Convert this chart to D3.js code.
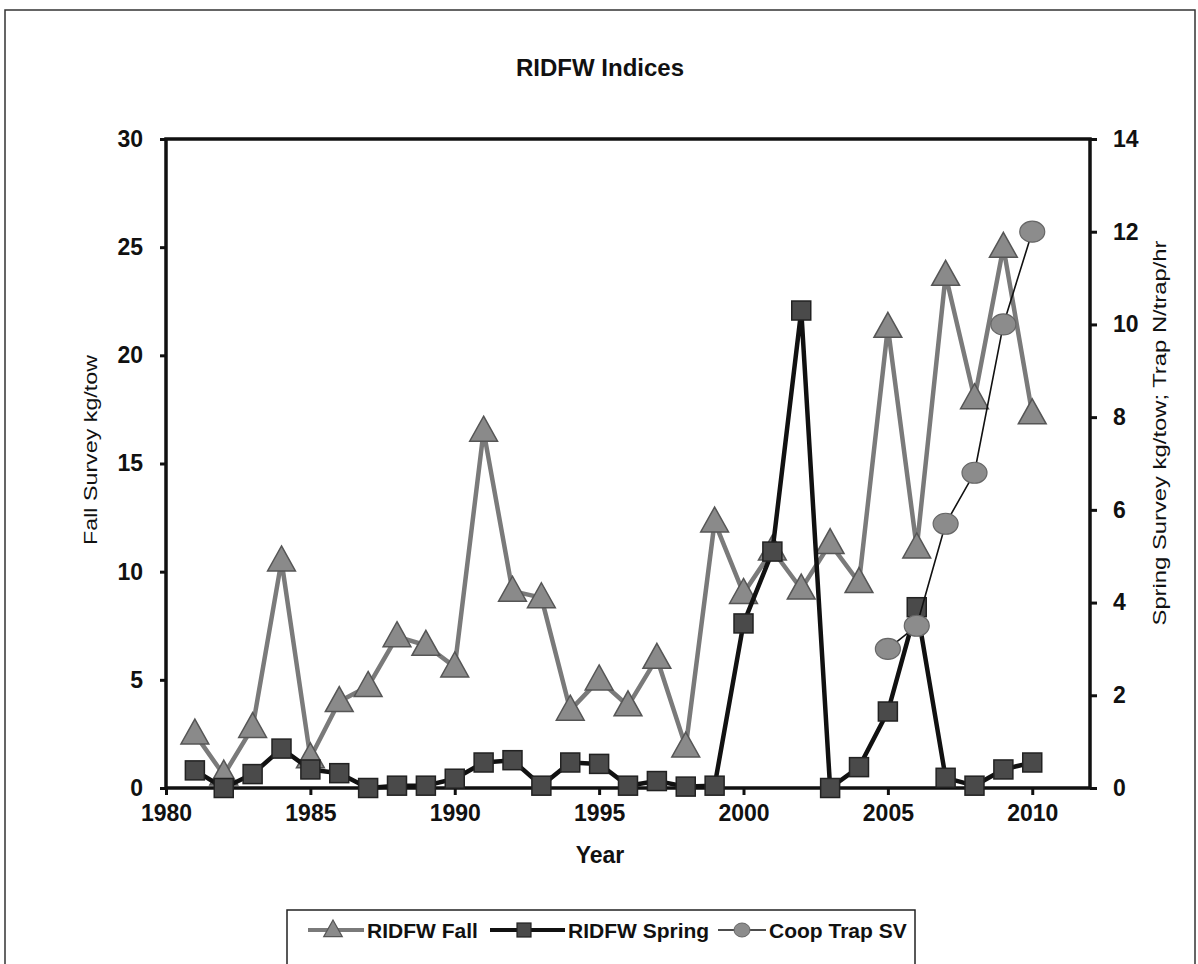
<!DOCTYPE html>
<html>
<head>
<meta charset="utf-8">
<script src="https://cdn.jsdelivr.net/npm/d3@7"></script>
<style>
  html, body { margin: 0; padding: 0; background: #fff; }
  svg { display: block; }
</style>
</head>
<body>
<svg id="chart" width="1198" height="964"></svg>
<script>
// ---- Data ----
const years = [1981,1982,1983,1984,1985,1986,1987,1988,1989,1990,1991,1992,1993,1994,1995,1996,1997,1998,1999,2000,2001,2002,2003,2004,2005,2006,2007,2008,2009,2010];
const fallValues = [2.5,0.6,2.8,10.5,1.4,4.0,4.7,7.0,6.6,5.6,16.5,9.1,8.8,3.6,5.0,3.8,6.0,1.9,12.3,9.0,11.0,9.2,11.3,9.5,21.3,11.1,23.7,18.0,25.0,17.3];
const springValues = [0.38,0.0,0.3,0.85,0.4,0.32,0.0,0.05,0.05,0.2,0.55,0.6,0.05,0.55,0.52,0.05,0.15,0.03,0.05,3.55,5.1,10.3,0.0,0.45,1.65,3.9,0.22,0.05,0.4,0.55];
const coopYears = [2005,2006,2007,2008,2009,2010];
const coopValues = [3.0,3.5,5.7,6.8,10.0,12.0];
const xTicks = [1980,1985,1990,1995,2000,2005,2010];
const leftTicks = [0,5,10,15,20,25,30];
const rightTicks = [0,2,4,6,8,10,12,14];
const seriesNames = ["RIDFW Fall","RIDFW Spring","Coop Trap SV"];
const titleText = "RIDFW Indices";
const xTitle = "Year";
const leftTitle = "Fall Survey kg/tow";
const rightTitle = "Spring Survey kg/tow; Trap N/trap/hr";

// ---- Layout ----
const L = 166, R = 1090, T = 139, B = 788;
const svg = d3.select("#chart");
const bold = "'Liberation Sans', Arial, sans-serif";
const narrow = "'Liberation Sans Narrow', 'Arial Narrow', 'Liberation Sans', Arial, sans-serif";

const x = d3.scaleLinear().domain([1980, 2012]).range([L, R]);
const yL = d3.scaleLinear().domain([0, 30]).range([B, T]);
const yR = d3.scaleLinear().domain([0, 14]).range([B, T]);

// outer border
svg.append("rect").attr("x", 5).attr("y", 10).attr("width", 1190).attr("height", 1000)
  .attr("fill", "none").attr("stroke", "#333").attr("stroke-width", 1.5);

// title
svg.append("text").attr("x", 600).attr("y", 76).attr("text-anchor", "middle")
  .attr("font-family", bold).attr("font-weight", "bold").attr("font-size", 24)
  .attr("fill", "#111").text(titleText);

// axes
const gx = svg.append("g").attr("transform", `translate(0,${B})`)
  .call(d3.axisBottom(x).tickValues(xTicks).tickFormat(d3.format("d")).tickSize(7).tickPadding(10));
const gl = svg.append("g").attr("transform", `translate(${L},0)`)
  .call(d3.axisLeft(yL).tickValues(leftTicks).tickSize(6).tickPadding(17));
const gr = svg.append("g").attr("transform", `translate(${R},0)`)
  .call(d3.axisRight(yR).tickValues(rightTicks).tickSize(7).tickPadding(16));
[gx, gl, gr].forEach(g => {
  g.select(".domain").remove();
  g.selectAll(".tick line").attr("stroke", "#111").attr("stroke-width", 3);
  g.selectAll(".tick text").attr("font-family", bold).attr("font-weight", "bold")
    .attr("font-size", 23).attr("fill", "#111");
});

// frame
svg.append("rect").attr("x", L).attr("y", T).attr("width", R - L).attr("height", B - T)
  .attr("fill", "none").attr("stroke", "#111").attr("stroke-width", 3.5);

// axis titles
svg.append("text").attr("x", 600).attr("y", 863).attr("text-anchor", "middle")
  .attr("font-family", bold).attr("font-weight", "bold").attr("font-size", 23)
  .attr("fill", "#111").text(xTitle);
svg.append("text").attr("transform", "translate(97,450) rotate(-90)")
  .attr("text-anchor", "middle").attr("font-family", narrow).attr("font-size", 18)
  .attr("textLength", 190).attr("lengthAdjust", "spacingAndGlyphs")
  .attr("fill", "#111").text(leftTitle);
svg.append("text").attr("transform", "translate(1166,433) rotate(-90)")
  .attr("text-anchor", "middle").attr("font-family", narrow).attr("font-size", 18)
  .attr("textLength", 385).attr("lengthAdjust", "spacingAndGlyphs")
  .attr("fill", "#111").text(rightTitle);

// ---- Series ----
const fallData = years.map((yr, i) => ({ x: yr, y: fallValues[i] }));
const springData = years.map((yr, i) => ({ x: yr, y: springValues[i] }));
const coopData = coopYears.map((yr, i) => ({ x: yr, y: coopValues[i] }));

const triPath = s => `M0,${-s * 0.62} L${s * 0.58},${s * 0.42} L${-s * 0.58},${s * 0.42} Z`;

// Fall
svg.append("path").datum(fallData)
  .attr("d", d3.line().x(d => x(d.x)).y(d => yL(d.y)))
  .attr("fill", "none").attr("stroke", "#7a7a7a").attr("stroke-width", 4.5).attr("stroke-linejoin", "round");
svg.append("g").selectAll("path").data(fallData).join("path")
  .attr("transform", d => `translate(${x(d.x)},${yL(d.y)})`)
  .attr("d", triPath(24))
  .attr("fill", "#8a8a8a").attr("stroke", "#555").attr("stroke-width", 1.5);

// Spring
svg.append("path").datum(springData)
  .attr("d", d3.line().x(d => x(d.x)).y(d => yR(d.y)))
  .attr("fill", "none").attr("stroke", "#111").attr("stroke-width", 4.5).attr("stroke-linejoin", "round");
svg.append("g").selectAll("rect").data(springData).join("rect")
  .attr("x", d => x(d.x) - 9.5).attr("y", d => yR(d.y) - 9.5)
  .attr("width", 19).attr("height", 19)
  .attr("fill", "#4a4a4a").attr("stroke", "#222").attr("stroke-width", 1.5);

// Coop
svg.append("path").datum(coopData)
  .attr("d", d3.line().x(d => x(d.x)).y(d => yR(d.y)))
  .attr("fill", "none").attr("stroke", "#111").attr("stroke-width", 1.6);
svg.append("g").selectAll("ellipse").data(coopData).join("ellipse")
  .attr("cx", d => x(d.x)).attr("cy", d => yR(d.y))
  .attr("rx", 12.5).attr("ry", 10.5)
  .attr("fill", "#8c8c8c").attr("stroke", "#666").attr("stroke-width", 1.2);

// ---- Legend ----
const lg = svg.append("g");
lg.append("rect").attr("x", 287).attr("y", 910).attr("width", 628).attr("height", 80)
  .attr("fill", "none").attr("stroke", "#222").attr("stroke-width", 1.5);
const legendY = 930;
const items = [
  { x1: 308, x2: 364, mx: 333, tx: 367, color: "#7a7a7a", w: 4, marker: "tri" },
  { x1: 490, x2: 565, mx: 524, tx: 568, color: "#111", w: 4, marker: "sq" },
  { x1: 718, x2: 766, mx: 742, tx: 769, color: "#111", w: 1.6, marker: "circ" }
];
items.forEach((it, i) => {
  lg.append("line").attr("x1", it.x1).attr("x2", it.x2).attr("y1", legendY).attr("y2", legendY)
    .attr("stroke", it.color).attr("stroke-width", it.w);
  if (it.marker === "tri") {
    lg.append("path").attr("transform", `translate(${it.mx},${legendY})`).attr("d", triPath(16))
      .attr("fill", "#8a8a8a").attr("stroke", "#555").attr("stroke-width", 1.2);
  } else if (it.marker === "sq") {
    lg.append("rect").attr("x", it.mx - 7).attr("y", legendY - 7).attr("width", 14).attr("height", 14)
      .attr("fill", "#4a4a4a").attr("stroke", "#222").attr("stroke-width", 1.2);
  } else {
    lg.append("ellipse").attr("cx", it.mx).attr("cy", legendY).attr("rx", 8).attr("ry", 7)
      .attr("fill", "#8c8c8c").attr("stroke", "#666").attr("stroke-width", 1);
  }
  lg.append("text").attr("x", it.tx).attr("y", legendY + 8)
    .attr("font-family", bold).attr("font-weight", "bold").attr("font-size", 21)
    .attr("fill", "#111").text(seriesNames[i]);
});
</script>
</body>
</html>
